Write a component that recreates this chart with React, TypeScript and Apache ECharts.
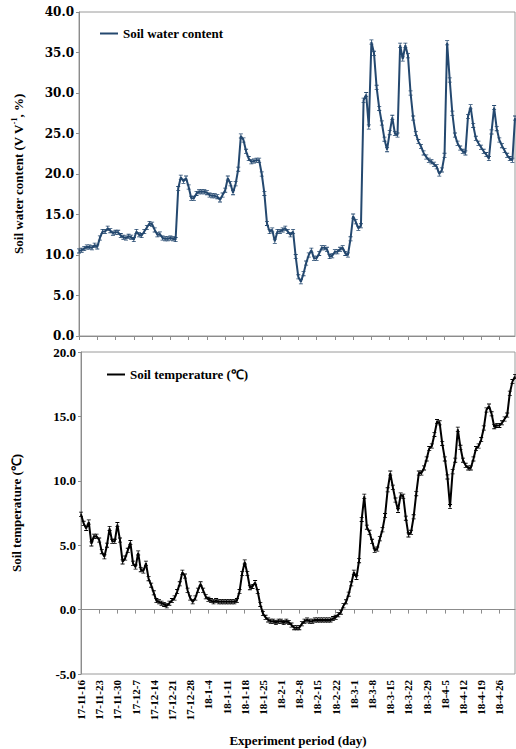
import React, { useEffect, useRef } from "react";
import * as echarts from "echarts";

const FONT = '"Liberation Serif", "Times New Roman", serif';
const WIDE_FONT = '"DejaVu Serif", "Liberation Serif", serif';

// 2017-11-16 .. 2018-5-2, daily
const dates: string[] = (() => {
  const out: string[] = [];
  for (let i = 0; i < 168; i++) {
    const d = new Date(2017, 10, 16 + i);
    out.push(`${String(d.getFullYear()).slice(2)}-${d.getMonth() + 1}-${d.getDate()}`);
  }
  return out;
})();

const waterContent: number[] = [
  10.5, 10.6, 10.8, 11.0, 11.0, 10.9, 11.2, 11.0, 12.1, 12.9,
  12.9, 13.3, 13.0, 12.7, 12.8, 12.8, 12.4, 12.2, 12.1, 12.3,
  12.2, 11.9, 12.9, 12.5, 12.4, 12.9, 13.4, 13.9, 13.8, 13.1,
  12.5, 12.6, 12.1, 12.0, 12.0, 12.1, 12.0, 11.9, 18.2, 19.6,
  19.1, 19.5, 18.4, 17.0, 17.0, 17.6, 17.8, 17.8, 17.8, 17.7,
  17.4, 17.3, 17.3, 17.2, 16.8, 17.4, 18.0, 19.5, 18.8, 17.7,
  18.8, 20.6, 24.7, 24.2, 22.8, 21.9, 21.5, 21.6, 21.7, 21.7,
  20.0, 17.6, 13.9, 12.9, 13.1, 11.7, 12.9, 12.9, 13.1, 13.3,
  12.9, 12.5, 12.9, 9.8, 7.3, 6.7, 7.7, 9.0, 10.0, 10.6,
  9.6, 9.6, 10.2, 10.9, 10.9, 10.7, 9.8, 9.9, 10.4, 10.4,
  10.7, 10.9, 10.2, 10.0, 12.0, 14.8, 14.1, 13.3, 13.6, 29.1,
  29.8, 25.8, 36.3, 34.9, 30.7, 28.1, 26.3, 24.3, 23.0, 25.1,
  27.0, 25.0, 24.8, 35.9, 34.2, 35.9, 34.6, 30.0, 26.9, 25.0,
  24.0, 23.4, 22.6, 22.1, 21.7, 21.5, 21.2, 20.9, 20.0, 20.5,
  22.3, 36.2, 31.6, 27.5, 24.8, 23.8, 23.2, 22.8, 22.6, 27.1,
  28.3, 26.0, 24.4, 23.8, 23.3, 22.8, 22.4, 21.9, 25.2, 28.2,
  25.6, 24.2, 23.5, 22.9, 22.3, 21.9, 21.7, 26.9,
];

const soilTemp: number[] = [
  7.4, 6.7, 6.3, 6.8, 5.1, 5.7, 5.7, 5.4, 4.5, 4.1,
  5.0, 6.3, 5.3, 5.3, 6.6, 5.4, 3.7, 4.0, 4.6, 5.2,
  3.6, 3.3, 4.4, 3.1, 3.0, 3.6, 2.4, 1.9, 1.3, 0.7,
  0.6, 0.5, 0.4, 0.3, 0.5, 0.7, 0.9, 1.4, 2.0, 2.9,
  2.6, 1.5, 0.9, 0.6, 0.9, 1.5, 2.0, 1.5, 1.0, 0.8,
  0.7, 0.6, 0.7, 0.6, 0.6, 0.6, 0.6, 0.6, 0.6, 0.6,
  0.7, 1.4, 2.8, 3.7, 2.8, 1.7, 1.8, 2.1, 1.4, 0.4,
  -0.3, -0.6, -0.8, -0.9, -0.9, -1.0, -0.9, -0.9, -1.0, -0.9,
  -1.0, -1.2, -1.4, -1.4, -1.4, -1.1, -0.9, -0.8, -0.9, -0.9,
  -0.8, -0.8, -0.8, -0.8, -0.8, -0.8, -0.8, -0.7, -0.6, -0.4,
  -0.2, 0.3, 0.6, 1.2, 2.0, 2.9, 2.5, 3.8, 7.0, 8.8,
  6.4, 6.0, 5.3, 4.6, 4.7, 5.5, 6.2, 7.3, 9.3, 10.6,
  9.5, 8.5, 7.7, 8.9, 8.8, 7.1, 5.8, 6.0, 7.2, 9.0,
  10.6, 10.6, 11.0, 11.7, 12.5, 12.7, 13.6, 14.6, 14.5, 12.9,
  11.7, 10.3, 8.0, 10.7, 11.6, 14.0, 12.6, 11.6, 11.2, 11.0,
  11.0, 11.7, 12.5, 12.7, 13.2, 14.1, 15.5, 15.8, 15.2, 14.2,
  14.3, 14.3, 14.5, 14.8, 15.1, 16.8, 17.7, 18.1,
];

const waterTicks = { min: 0, max: 40, interval: 5 };
const tempTicks = { min: -5, max: 20, interval: 5 };

const WATER_NAME = "Soil water content";
const TEMP_NAME = "Soil temperature (℃)";

const ERRBAR = "path://M0 0h5v1H0zM2 0h1v6H2zM0 5h5v1H0z";

export default function App() {
  const ref = useRef<HTMLDivElement>(null);
  useEffect(() => {
    if (!ref.current) return;
    const chart = echarts.init(ref.current, null, { renderer: "svg" });
    const axisColor = "#8c8c8c";
    const legendText = { fontFamily: FONT, fontWeight: "bold" as const, fontSize: 13, color: "#000" };
    const yCommon = (gi: number, family: string, size: number) => ({
      type: "value" as const,
      gridIndex: gi,
      axisLine: { show: true, lineStyle: { color: axisColor } },
      axisTick: { show: true, length: 3, lineStyle: { color: axisColor } },
      splitLine: { show: false },
      axisLabel: {
        fontFamily: family,
        fontWeight: "bold" as const,
        fontSize: size,
        color: "#000",
        margin: 5,
        formatter: (v: number) => v.toFixed(1),
      },
      nameLocation: "middle" as const,
    });
    const xCommon = (gi: number) => ({
      type: "category" as const,
      gridIndex: gi,
      data: dates,
      boundaryGap: false,
      axisLine: { show: true, lineStyle: { color: axisColor } },
      axisTick: { show: true, interval: 6, length: 4, lineStyle: { color: axisColor } },
    });
    chart.setOption({
      animation: false,
      backgroundColor: "#fff",
      textStyle: { fontFamily: FONT },
      legend: [
        {
          data: [{ name: WATER_NAME, icon: "rect" }],
          left: 100,
          top: 27,
          padding: 0,
          itemWidth: 18,
          itemHeight: 2,
          selectedMode: false,
          textStyle: legendText,
        },
        {
          data: [{ name: TEMP_NAME, icon: "rect" }],
          left: 107,
          top: 368,
          padding: 0,
          itemWidth: 18,
          itemHeight: 2,
          selectedMode: false,
          textStyle: legendText,
        },
      ],
      grid: [
        { left: 79, top: 12, right: 1, height: 324, show: true, borderColor: "#9a9a9a", borderWidth: 1 },
        { left: 81, top: 352, right: 1, height: 322, show: true, borderColor: "#9a9a9a", borderWidth: 1 },
      ],
      xAxis: [
        { ...xCommon(0), axisLabel: { show: false } },
        {
          ...xCommon(1),
          axisLabel: { interval: 6, rotate: 90, margin: 6, fontFamily: FONT, fontWeight: "bold", fontSize: 11, color: "#000" },
          name: "Experiment period (day)",
          nameLocation: "middle",
          nameGap: 60,
          nameTextStyle: { fontFamily: FONT, fontWeight: "bold", fontSize: 13, color: "#000" },
        },
      ],
      yAxis: [
        {
          ...yCommon(0, WIDE_FONT, 12),
          ...waterTicks,
          name: "{a|Soil water content (V V}{s|-1}{a|, %)}",
          nameGap: 53,
          nameTextStyle: {
            rich: {
              a: { fontFamily: FONT, fontWeight: "bold", fontSize: 13, color: "#000", lineHeight: 16 },
              s: { fontFamily: FONT, fontWeight: "bold", fontSize: 8, color: "#000", verticalAlign: "top", lineHeight: 16 },
            },
          },
        },
        {
          ...yCommon(1, FONT, 13),
          ...tempTicks,
          name: TEMP_NAME,
          nameGap: 58,
          nameTextStyle: { fontFamily: FONT, fontWeight: "bold", fontSize: 13, color: "#000" },
        },
      ],
      series: [
        {
          name: WATER_NAME,
          type: "line",
          xAxisIndex: 0,
          yAxisIndex: 0,
          data: waterContent,
          symbol: ERRBAR,
          symbolSize: [4, 5],
          showSymbol: true,
          showAllSymbol: true,
          lineStyle: { color: "#24486f", width: 2 },
          itemStyle: { color: "#24486f" },
        },
        {
          name: TEMP_NAME,
          type: "line",
          xAxisIndex: 1,
          yAxisIndex: 1,
          data: soilTemp,
          symbol: ERRBAR,
          symbolSize: [4, 5],
          showSymbol: true,
          showAllSymbol: true,
          lineStyle: { color: "#000", width: 2 },
          itemStyle: { color: "#000" },
        },
      ],
    });
    return () => chart.dispose();
  }, []);
  return (
    <div
      ref={ref}
      style={{ position: "absolute", left: 0, top: 0, width: 516, height: 749 }}
    />
  );
}
